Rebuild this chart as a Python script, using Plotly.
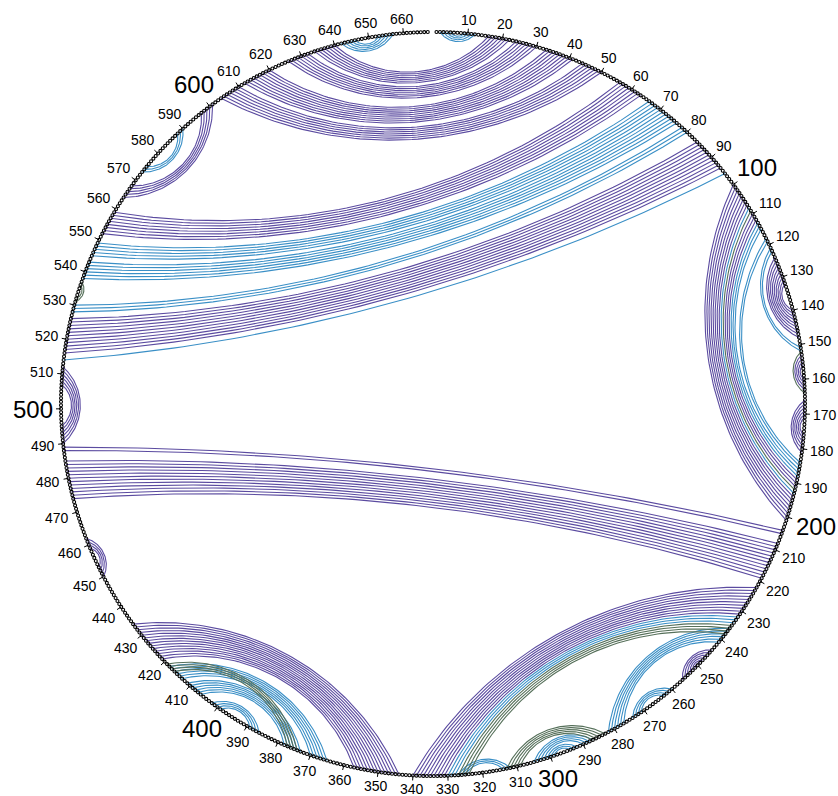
import numpy as np
import plotly.graph_objects as go

# ---------------- data ----------------
SEQ_LEN = 667          # nucleotides drawn on the circle
SLOTS = 668.5          # angular slots (leaves a small gap at the top)

# helices: start i, end j, number of stacked pairs, class
helix_i   = [2, 642, 16, 24, 33, 44, 56, 66, 71, 78, 84, 92, 96,
             100, 108, 109, 110, 113, 118, 121, 124, 152, 153, 166,
             222, 232, 235, 236, 244, 260, 283, 287, 292, 312,
             344, 365, 373, 374, 386,
             450, 204, 208, 490, 531, 564, 573]
helix_j   = [12, 657, 640, 632, 620, 610, 559, 549, 543, 530, 526, 518, 514,
             201, 193, 192, 191, 188, 185, 152, 148, 164, 163, 181,
             340, 330, 327, 282, 256, 274, 313, 305, 301, 327,
             434, 418, 411, 419, 402,
             462, 489, 485, 512, 537, 601, 590]
helix_len = [4, 5, 7, 7, 9, 7, 8, 5, 6, 3, 8, 3, 1,
             8, 1, 1, 3, 3, 2, 2, 9, 1, 4, 6,
             10, 3, 4, 6, 6, 4, 5, 4, 3, 3,
             14, 6, 6, 4, 4,
             4, 2, 12, 6, 2, 5, 3]
helix_cls = ["B", "B", "P", "P", "P", "P", "P", "B", "B", "B", "P", "P", "B",
             "P", "B", "G", "P", "B", "B", "B", "P", "G", "P", "P",
             "P", "B", "G", "B", "P", "B", "G", "B", "B", "B",
             "P", "B", "B", "G", "B",
             "P", "P", "P", "P", "G", "P", "B"]

tick_positions = list(range(10, 661, 10))
tick_labels = [str(t) for t in tick_positions]

class_colors = {"P": "#5b4ba0", "B": "#3a8fc6", "G": "#56705a"}

# ---------------- geometry ----------------
W, H = 838, 796
CX, CY, R = 433, 404, 372
PX = 1.0 / R   # one pixel in unit-circle coordinates


def theta(p):
    return 2 * np.pi * np.asarray(p, dtype=float) / SLOTS


def arc_xy(p1, p2, k=0.5, n=70):
    t1, t2 = float(theta(p1)), float(theta(p2))
    d = (t2 - t1) % (2 * np.pi)
    if d <= np.pi:
        mid = t1 + d / 2
        h = d / 2
    else:
        mid = t2 + (2 * np.pi - d) / 2
        h = (2 * np.pi - d) / 2
    u = np.array([np.sin(mid), np.cos(mid)])
    v = np.array([np.cos(mid), -np.sin(mid)])
    a, c = np.sin(h), np.cos(h)
    s = k * a * np.tan(np.pi / 4 - h / 2)
    if s < 1e-7:
        P1 = np.array([np.sin(t1), np.cos(t1)])
        P2 = np.array([np.sin(t2), np.cos(t2)])
        return [P1[0], P2[0]], [P1[1], P2[1]]
    rho = (a * a + s * s) / (2 * s)
    m = c - s
    Q = (m + rho) * u
    phi = np.arccos((rho - s) / rho)
    ts = np.linspace(-phi, phi, n)
    pts = Q[None, :] + rho * (-np.cos(ts)[:, None] * u[None, :] + np.sin(ts)[:, None] * v[None, :])
    return list(pts[:, 0]), list(pts[:, 1])


fig = go.Figure()

# arcs, grouped by class
for cls in ["P", "B", "G"]:
    xs, ys = [], []
    for i, j, L, cc in zip(helix_i, helix_j, helix_len, helix_cls):
        if cc != cls:
            continue
        for kk in range(L):
            ax, ay = arc_xy(i + kk, j - kk)
            xs += ax + [None]
            ys += ay + [None]
    fig.add_trace(go.Scatter(x=xs, y=ys, mode="lines",
                             line=dict(color=class_colors[cls], width=1.1),
                             hoverinfo="skip", showlegend=False))

# nucleotides
pos = np.arange(1, SEQ_LEN + 1)
th = theta(pos)
fig.add_trace(go.Scatter(x=np.sin(th), y=np.cos(th), mode="markers",
                         marker=dict(symbol="circle-open", size=3, color="black",
                                     line=dict(width=1.1, color="black")),
                         hoverinfo="skip", showlegend=False))

# ticks
tx, ty = [], []
for p in tick_positions:
    t = float(theta(p))
    tx += [np.sin(t), (1 + 5 * PX) * np.sin(t), None]
    ty += [np.cos(t), (1 + 5 * PX) * np.cos(t), None]
fig.add_trace(go.Scatter(x=tx, y=ty, mode="lines",
                         line=dict(color="black", width=1),
                         hoverinfo="skip", showlegend=False))

# tick labels
for p, lab in zip(tick_positions, tick_labels):
    big = (p % 100 == 0)
    fs = 24 if big else 14
    w = len(lab) * 0.556 * fs
    hgt = 0.72 * fs
    t = float(theta(p))
    off = 8 + (w / 2) * abs(np.sin(t)) + (hgt / 2) * abs(np.cos(t))
    rr = 1 + off * PX
    fig.add_annotation(x=rr * np.sin(t), y=rr * np.cos(t), text=lab,
                       showarrow=False, xanchor="center", yanchor="middle",
                       font=dict(family="Liberation Sans, Arial, sans-serif",
                                 size=fs, color="black"))

fig.update_layout(
    width=W, height=H,
    margin=dict(l=0, r=0, t=0, b=0),
    paper_bgcolor="white", plot_bgcolor="white",
    showlegend=False,
    xaxis=dict(range=[-CX / R, (W - CX) / R], visible=False, fixedrange=True),
    yaxis=dict(range=[-(H - CY) / R, CY / R], visible=False, fixedrange=True),
)

fig.write_html("out.html", config={"displayModeBar": False},
               post_script="document.body.style.margin='0px';")
